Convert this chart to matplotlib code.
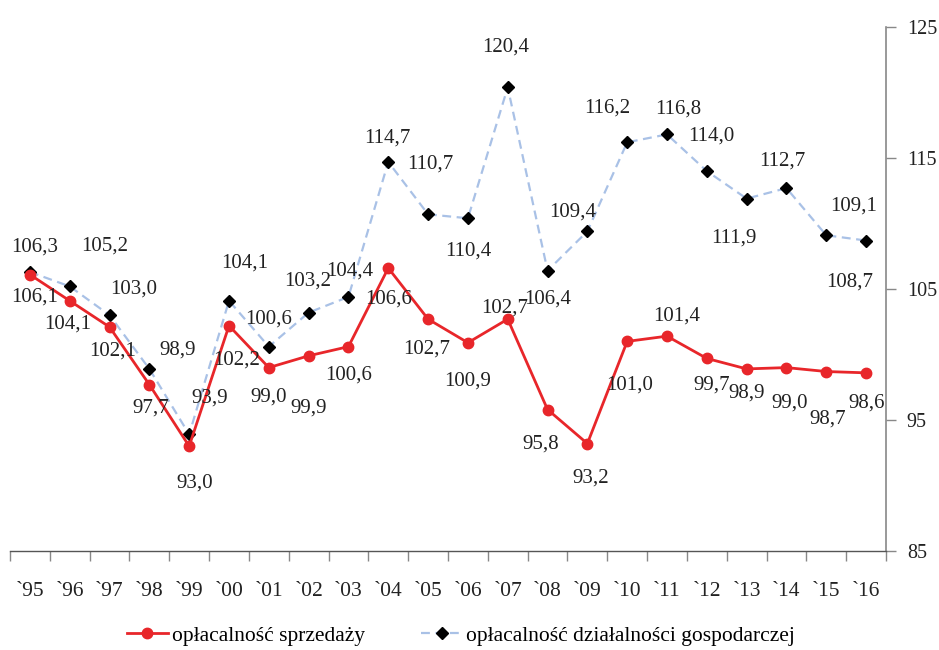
import numpy as np
import matplotlib
matplotlib.use('Agg')
import matplotlib.pyplot as plt

plt.rcParams['font.family'] = ['Liberation Serif', 'DejaVu Serif']

years = ['`95', '`96', '`97', '`98', '`99', '`00', '`01', '`02', '`03', '`04', '`05',
         '`06', '`07', '`08', '`09', '`10', '`11', '`12', '`13', '`14', '`15', '`16']
sprzedaz = [106.1, 104.1, 102.1, 97.7, 93.0, 102.2, 99.0, 99.9, 100.6, 106.6, 102.7,
            100.9, 102.7, 95.8, 93.2, 101.0, 101.4, 99.7, 98.9, 99.0, 98.7, 98.6]
dzialalnosc = [106.3, 105.2, 103.0, 98.9, 93.9, 104.1, 100.6, 103.2, 104.4, 114.7, 110.7,
               110.4, 120.4, 106.4, 109.4, 116.2, 116.8, 114.0, 111.9, 112.7, 109.1, 108.7]
yticks = [85, 95, 105, 115, 125]

# label offsets in pixels (dx right, dy down), as placed in the original
off_red = [(5, 22), (-2, 23), (3, 24), (1, 23), (6, 37), (8, 34), (0, 29), (0, 52),
           (0, 28), (0, 31), (-1, 30), (0, 38), (-3, -11), (-7, 35), (3, 34), (2, 44),
           (10, -20), (5, 27), (0, 24), (3, 35), (1, 48), (1, 30)]
off_blue = [(5, -25), (35, -40), (24, -26), (28, -19), (21, -36), (16, -38), (0, -28),
            (-1, -32), (1, -26), (-1, -24), (2, -50), (0, 33), (-2, -40), (0, 28),
            (-15, -19), (-20, -34), (11, -25), (4, -35), (-13, 39), (-4, -27),
            (27, -29), (-16, 42)]

DPI = 100
FS = 15

fig = plt.figure(figsize=(9.39, 6.5), dpi=DPI)
ax = fig.add_axes([10 / 939, 1 - 551 / 650, 876 / 939, 524 / 650])

x = np.arange(len(years))
ax.plot(x, sprzedaz, color='#e8262a', lw=2, marker='o', ms=7.5,
        label='opłacalność sprzedaży', zorder=3)
ax.plot(x, dzialalnosc, color='#a9c1e6', lw=1.6, ls=(0, (4, 2.5)), marker='D', ms=6.5,
        mfc='black', mec='black', label='opłacalność działalności gospodarczej', zorder=2)

def fmt(v):
    return ('%.1f' % v).replace('.', ',')

px2pt = 72.0 / DPI
for xi, v, (dx, dy) in zip(x, sprzedaz, off_red):
    ax.annotate(fmt(v), (xi, v), xytext=(dx * px2pt, -dy * px2pt), textcoords='offset points',
                ha='center', va='center', fontsize=FS, color='#222222')
for xi, v, (dx, dy) in zip(x, dzialalnosc, off_blue):
    ax.annotate(fmt(v), (xi, v), xytext=(dx * px2pt, -dy * px2pt), textcoords='offset points',
                ha='center', va='center', fontsize=FS, color='#222222')

ax.set_xlim(-0.5, len(years) - 0.5)
ax.set_ylim(85, 125)
ax.set_yticks(yticks)
ax.yaxis.tick_right()
ax.tick_params(axis='y', direction='out', length=7, width=1, colors='#888888',
               labelcolor='#222222', labelsize=14.5, pad=8)

ax.set_xticks(x)
ax.set_xticklabels(years)
ax.set_xticks(np.arange(-0.5, len(years)), minor=True)
ax.tick_params(axis='x', which='major', length=0, labelsize=15.5, pad=22, labelcolor='#222222')
ax.tick_params(axis='x', which='minor', direction='out', length=7, width=1, color='#888888')

ax.spines['left'].set_visible(False)
ax.spines['top'].set_visible(False)
ax.spines['right'].set_color('#888888')
ax.spines['bottom'].set_color('#555555')
ax.spines['right'].set_linewidth(1.2)
ax.spines['bottom'].set_linewidth(1.0)

fig.legend(loc='center', bbox_to_anchor=(0.491, 0.022), ncol=2, frameon=False,
           fontsize=15.5, handlelength=1.9, columnspacing=2.6, handletextpad=0.2)

fig.savefig('out.png', dpi=DPI)
